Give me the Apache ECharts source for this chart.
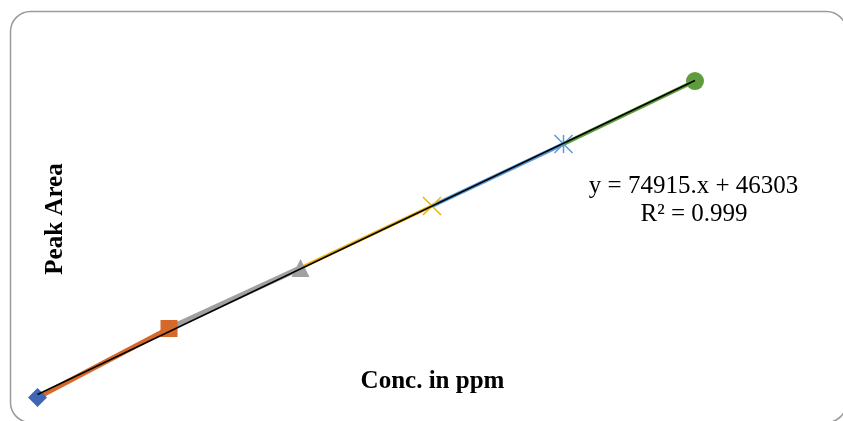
<!DOCTYPE html>
<html>
<head>
<meta charset="utf-8">
<script src="https://cdn.jsdelivr.net/npm/echarts@6/dist/echarts.min.js"></script>
<style>
html,body{margin:0;padding:0;background:#fff;}
#chart{width:843px;height:421px;}
</style>
</head>
<body>
<div id="chart"></div>
<script>
// Data
const concentrations = [10, 20, 30, 40, 50, 60];
const peakAreas = [759700, 1582800, 2304500, 3044100, 3783700, 4535200];
const trendCoefficients = [74915, 46303]; // slope, intercept
const equationText = 'y = 74915.x + 46303';
const r2Text = 'R\u00b2 = 0.999';
const xAxisTitle = 'Conc. in ppm';
const yAxisTitle = 'Peak Area';

const colors = ['#3F66B2', '#D4692A', '#A0A0A0', '#EBB20A', '#5B9BD5', '#5F9C3D'];
const lineWidths = [0, 5, 5.5, 3.5, 4, 4];
const symbols = [
  'diamond', 'rect', 'triangle',
  'path://M0,0L10,10M10,0L0,10',
  'path://M0,0L10,10M10,0L0,10M5,0L5,10',
  'circle'
];
const symbolSizes = [19, 17, 18, 18, 18, 18];

const series = [];
for (let i = 0; i < concentrations.length; i++) {
  const isStroke = symbols[i].indexOf('path://') === 0;
  const data = [];
  if (i > 0) data.push({value: [concentrations[i - 1], peakAreas[i - 1]], symbol: 'none'});
  data.push({value: [concentrations[i], peakAreas[i]]});
  series.push({
    type: 'line',
    data: data,
    symbol: symbols[i],
    symbolSize: symbolSizes[i],
    showSymbol: true,
    z: 2,
    silent: true,
    animation: false,
    lineStyle: {color: colors[i], width: lineWidths[i] || 0},
    itemStyle: isStroke
      ? {color: 'rgba(0,0,0,0)', borderColor: colors[i], borderWidth: 1.5}
      : {color: colors[i], borderWidth: 0}
  });
}
const xMin = concentrations[0], xMax = concentrations[concentrations.length - 1];
series.push({
  type: 'line',
  data: [
    [xMin, trendCoefficients[0] * xMin + trendCoefficients[1]],
    [xMax, trendCoefficients[0] * xMax + trendCoefficients[1]]
  ],
  symbol: 'none',
  z: 5,
  animation: false,
  lineStyle: {color: '#000', width: 1.5}
});

const chart = echarts.init(document.getElementById('chart'), null, {renderer: 'canvas'});
chart.setOption({
  backgroundColor: '#fff',
  animation: false,
  grid: {left: 37.5, width: 657.5, top: 67.2, height: 335.3},
  xAxis: {type: 'value', min: 10, max: 60, show: false},
  yAxis: {type: 'value', min: 700000, max: 4700000, show: false},
  series: series,
  graphic: [
    {type: 'rect', shape: {x: 10.5, y: 11.5, width: 836, height: 411, r: 20},
     style: {fill: 'none', stroke: '#9a9a9a', lineWidth: 1.5}, z: -1, silent: true},
    {type: 'text', x: 432.5, y: 382, style: {text: xAxisTitle, font: 'bold 25px "Liberation Serif"', fill: '#000', align: 'center', verticalAlign: 'middle'}},
    {type: 'text', x: 56, y: 219, rotation: Math.PI / 2, style: {text: yAxisTitle, font: 'bold 25px "Liberation Serif"', fill: '#000', align: 'center', verticalAlign: 'middle'}},
    {type: 'text', x: 693.5, y: 186, style: {text: equationText, font: '25px "Liberation Serif"', fill: '#000', align: 'center', verticalAlign: 'middle'}},
    {type: 'text', x: 694, y: 214, style: {text: r2Text, font: '25px "Liberation Serif"', fill: '#000', align: 'center', verticalAlign: 'middle'}}
  ]
});
</script>
</body>
</html>
